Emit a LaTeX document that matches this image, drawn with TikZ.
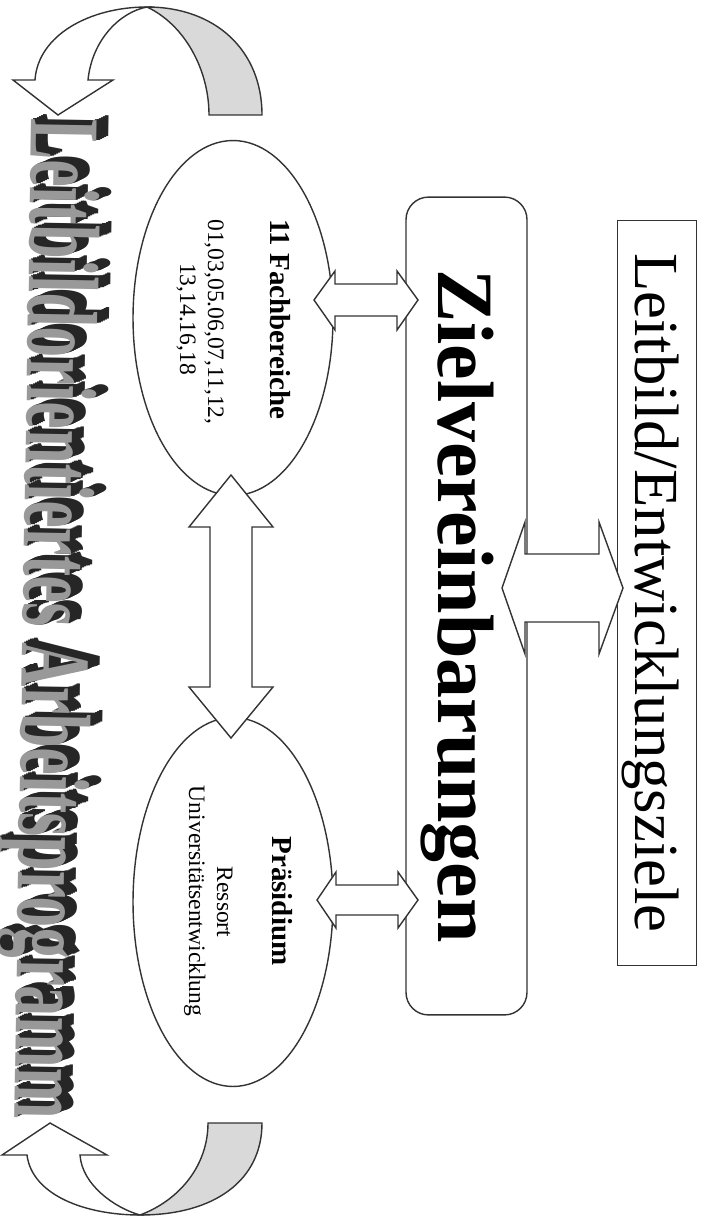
\documentclass[tikz,border=0pt]{standalone}
\usepackage{fontspec}
\usepackage{graphicx}
\setmainfont{Liberation Serif}
\usetikzlibrary{shapes.geometric}
\newcommand{\progtext}{Leitbildorientiertes Arbeitsprogramm}
\begin{document}
\begin{tikzpicture}[x=0.02cm,y=-0.02cm,line width=0.8pt,
  frame/.style={draw=black!80, rotate=-90, inner sep=0pt, text depth=0pt},
  bubble/.style={draw=black!80, ellipse, rotate=-90, minimum width=7.1cm, minimum height=4cm, inner sep=0pt},
  title/.style={rotate=-90, anchor=base, inner sep=0pt, font=\fontsize{16.5}{19}\selectfont\bfseries},
  sub/.style={rotate=-90, anchor=base, inner sep=0pt, font=\fontsize{13.4}{16}\selectfont},
  blockarrow/.style={draw=black!80, fill=white, line join=miter},
  wordart/.style={rotate=-91, anchor=base west, inner sep=0pt, text depth=0pt, font=\fontsize{57}{60}\selectfont\bfseries}]
\useasboundingbox (0,0) rectangle (703,1220);

% turning arrows, top and bottom
\filldraw[fill=black!15, draw=black!80] (147,7) .. controls (215,7) and (262,50) .. (262,115)
  -- (209,115) .. controls (209,70) and (185,25) .. (147,7) -- cycle;
\filldraw[fill=white, draw=black!80, line join=miter] (13,80) -- (35,80) .. controls (38,35) and (90,7) .. (147,7)
  .. controls (120,12) and (92,40) .. (88,80) -- (113,80) -- (58,115) -- cycle;
\filldraw[fill=black!15, draw=black!80] (140,1215) .. controls (215,1215) and (262,1180) .. (262,1123)
  -- (208,1123) .. controls (208,1165) and (180,1200) .. (140,1215) -- cycle;
\filldraw[fill=white, draw=black!80, line join=miter] (2,1155) -- (27,1155) .. controls (32,1195) and (85,1215) .. (140,1215)
  .. controls (115,1208) and (82,1185) .. (80,1155) -- (107,1155) -- (50,1123) -- cycle;

% extruded title
\foreach \d in {12,10,...,2}
  \node[wordart, text=black!85] at (32+\d,118-0.4*\d) {\scalebox{0.613}[1]{\progtext}};
\node[wordart, text=black!40] (prog) at (32,118) {\scalebox{0.613}[1]{\progtext}};

% boxes
\node[frame, minimum width=14.9cm, minimum height=1.58cm, font=\fontsize{35.7}{40}\selectfont] (leit) at (657,593) {Leitbild/Entwicklungsziele};
\node[frame, rounded corners=0.45cm, minimum width=16.36cm, minimum height=2.42cm, font=\fontsize{45.5}{50}\selectfont\bfseries] (ziel) at (466.5,606) {Zielvereinbarungen};

% ellipses
\node[bubble] (fach) at (233,318) {};
\node[title] (fachT) at (270,319) {11 Fachbereiche};
\node[sub] (fachA) at (208,322) {01,03,05.06,07,11,12,};
\node[sub] (fachB) at (180,319) {13,14.16,18};
\node[bubble, minimum width=7.38cm] (praes) at (233,902) {};
\node[title] (praesT) at (272,901) {Präsidium};
\node[sub] (praesA) at (217,902) {Ressort};
\node[sub] (praesB) at (189,901) {Universitätsentwicklung};

% double arrows
\draw[blockarrow] (502,588) -- (525,522) -- (525,554) -- (599,554) -- (599,522) -- (623,588)
  -- (599,654) -- (599,622) -- (525,622) -- (525,654) -- cycle;
\draw[blockarrow] (314,300) -- (335,271) -- (335,284) -- (397,284) -- (397,271) -- (418,300)
  -- (397,330) -- (397,316) -- (335,316) -- (335,330) -- cycle;
\draw[blockarrow] (317,900) -- (336,872) -- (336,885) -- (398,885) -- (398,872) -- (418,900)
  -- (398,928) -- (398,915) -- (336,915) -- (336,928) -- cycle;
\draw[blockarrow] (231,475) -- (273,527) -- (252,527) -- (252,687) -- (273,687) -- (231,738)
  -- (189,687) -- (210,687) -- (210,527) -- (189,527) -- cycle;
\end{tikzpicture}
\end{document}
